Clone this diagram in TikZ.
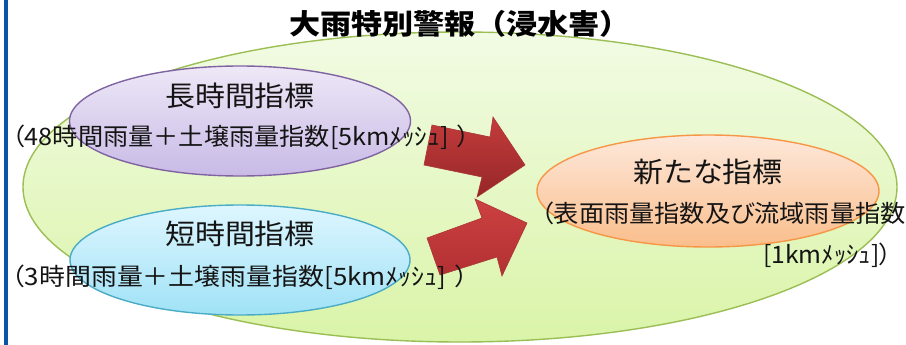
\documentclass[tikz,border=0pt]{standalone}
\usepackage{fontspec}
\setmainfont{Noto Sans CJK JP}
\newfontfamily\jp{Noto Sans CJK JP}
\newfontfamily\jpp[RawFeature=+palt]{Noto Sans CJK JP}
\usetikzlibrary{shapes.geometric}
\definecolor{barblue}{RGB}{10,85,170}
\definecolor{grline}{RGB}{155,190,85}
\definecolor{grtop}{RGB}{242,251,228}
\definecolor{grbot}{RGB}{218,244,168}
\definecolor{puline}{RGB}{128,100,162}
\definecolor{putop}{RGB}{238,232,247}
\definecolor{pubot}{RGB}{200,186,230}
\definecolor{blline}{RGB}{75,172,198}
\definecolor{bltop}{RGB}{222,246,255}
\definecolor{blbot}{RGB}{160,226,246}
\definecolor{orline}{RGB}{247,150,70}
\definecolor{ortop}{RGB}{253,232,218}
\definecolor{orbot}{RGB}{250,190,140}
\definecolor{arline}{RGB}{170,55,55}
\definecolor{artopA}{RGB}{196,60,60}
\definecolor{arbotA}{RGB}{150,38,40}
\definecolor{artopB}{RGB}{205,65,65}
\definecolor{arbotB}{RGB}{178,48,50}
\definecolor{txt}{RGB}{20,20,20}
\tikzset{
  oval/.style={ellipse, inner sep=0pt, line width=1.4pt},
  big/.style={font=\jp\fontsize{28}{30}\selectfont, inner sep=0pt, text=txt},
  sub/.style={font=\jpp\fontsize{24}{26}\selectfont, inner sep=0pt, text=txt},
  ttl/.style={font=\jp\bfseries\fontsize{28}{30}\selectfont, inner sep=0pt},
  blockarrow/.style={draw=arline, line width=0.6pt},
}
\begin{document}
\begin{tikzpicture}[x=1pt,y=-1pt]
\useasboundingbox (0,0) rectangle (906,345);
\fill[white] (0,0) rectangle (906,345);
\fill[barblue] (4,0) rectangle (8,345);
% big green ellipse
\node[oval, draw=grline, top color=grtop, bottom color=grbot,
      minimum width=874, minimum height=310] (warn) at (460,187) {};
% title
\node[ttl] (title) at (460,24) {\scalebox{1.11}[1]{大雨特別警報（浸水害）}};
% long-term index
\node[oval, draw=puline, top color=putop, bottom color=pubot,
      minimum width=341, minimum height=110] (long) at (240,121) {};
% short-term index
\node[oval, draw=blline, top color=bltop, bottom color=blbot,
      minimum width=340, minimum height=110] (short) at (240,260) {};
% new index
\node[oval, draw=orline, top color=ortop, bottom color=orbot,
      minimum width=342, minimum height=112] (new) at (708,191) {};
% arrows
\path[blockarrow, top color=artopA, bottom color=arbotA]
  (432,125) -- (490,137) -- (493,117) -- (525,165) -- (477,197) -- (482,177) -- (424,165) -- cycle;
\path[blockarrow, top color=artopB, bottom color=arbotB]
  (427,238) -- (482,218) -- (475,199) -- (527,223) -- (502,276) -- (497,257) -- (440,275) -- cycle;
% texts
\node[big] (longt) at (240,96) {\scalebox{1.07}[1]{長時間指標}};
\node[sub] (longs) at (241,137) {\scalebox{1.05}[1]{（48時間雨量＋土壌雨量指数[5kmﾒｯｼｭ]\hspace{8pt}）}};
\node[big] (shortt) at (240,234) {\scalebox{1.07}[1]{短時間指標}};
\node[sub] (shorts) at (240,277) {\scalebox{1.08}[1]{（3時間雨量＋土壌雨量指数[5kmﾒｯｼｭ]\hspace{8pt}）}};
\node[big] (newt) at (708,172) {\scalebox{1.07}[1]{新たな指標}};
\node[sub, anchor=west] (news) at (541,213) {\scalebox{1.05}[1]{（表面雨量指数及び流域雨量指数}};
\node[sub, anchor=east] (newm) at (892,255) {\scalebox{1.03}[1]{[1kmﾒｯｼｭ]）}};
\end{tikzpicture}
\end{document}
